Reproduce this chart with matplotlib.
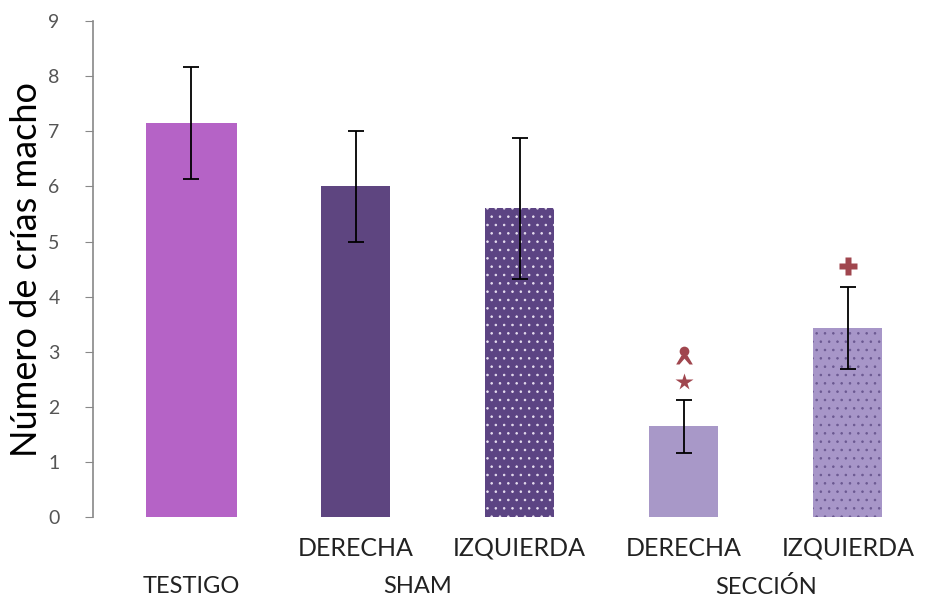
import matplotlib
matplotlib.use("Agg")
import matplotlib.pyplot as plt
from matplotlib.path import Path
import matplotlib.transforms as mtransforms
import numpy as np

# male pups per group: mean and error
groups = ["TESTIGO", "SHAM", "SECCIÓN"]
sub_labels = ["", "DERECHA", "IZQUIERDA", "DERECHA", "IZQUIERDA"]
means = [7.15, 6.0, 5.6, 1.65, 3.43]
errors = [1.02, 1.0, 1.28, 0.48, 0.75]
colors = ["#b563c6", "#5e4580", "#5c4483", "#a898c8", "#a796c8"]
hatches = [None, None, "..", None, ".."]
hatch_colors = [None, None, "#e8e0f0", None, "#6a5890"]
widths = [0.56, 0.42, 0.42, 0.42, 0.42]

# significance marks above the SECCIÓN bars
mark_col = "#a0464e"

plt.rcParams["font.family"] = ["Lato", "DejaVu Sans"]
plt.rcParams["hatch.linewidth"] = 0.6

fig = plt.figure(figsize=(9.3, 6), dpi=100)
ax = fig.add_axes([0.1, 0.138, 0.9, 0.827])

x = np.arange(len(means))
for i in range(len(means)):
    if hatches[i]:
        ax.bar(x[i], means[i], width=widths[i], color=colors[i],
               edgecolor=hatch_colors[i], linewidth=0, hatch=hatches[i])
    else:
        ax.bar(x[i], means[i], width=widths[i], color=colors[i], linewidth=0)
ax.errorbar(x, means, yerr=errors, fmt="none", ecolor="black",
            elinewidth=1.3, capsize=6, capthick=1.3)

# star and "pup" symbol over SECCIÓN DERECHA, cross over SECCIÓN IZQUIERDA
ax.plot(3, 2.45, marker="*", ms=13, color=mark_col, mec="none")
ax.plot(3, 3.02, marker="o", ms=7, color=mark_col, mec="none")
legs = Path([(-1, -0.6), (-0.35, 0.5), (0.35, 0.5), (1, -0.6), (0.6, -0.6),
             (0, 0.1), (-0.6, -0.6), (-1, -0.6)],
            [Path.MOVETO] + [Path.LINETO] * 6 + [Path.CLOSEPOLY])
ax.plot(3, 2.87, marker=legs, ms=12, color=mark_col, mec="none")
ax.plot(4, 4.55, marker="P", ms=13, color=mark_col, mec="none")

ax.set_xlim(-0.6, 4.5)
ax.set_ylim(0, 9)
ax.set_yticks(range(0, 10))
ax.tick_params(axis="y", direction="out", length=6, color="#888888",
               labelcolor="#555555", labelsize=14, pad=18)
ax.set_xticks(x)
ax.set_xticklabels(sub_labels)
ax.tick_params(axis="x", length=0, labelsize=18, pad=14, labelcolor="#222222")

for s in ["top", "right", "bottom"]:
    ax.spines[s].set_visible(False)
ax.spines["left"].set_color("#888888")
ax.spines["left"].set_linewidth(1.2)

ax.set_ylabel("Número de crías macho", fontsize=26, labelpad=4)

trans = mtransforms.blended_transform_factory(ax.transData, ax.transAxes)
group_x = [0, 1.38, 3.5]
for gx, g in zip(group_x, groups):
    ax.text(gx, -0.14, g, transform=trans, ha="center", va="center",
            fontsize=17, color="#222222")

fig.savefig("out.png", dpi=100, facecolor="white")
